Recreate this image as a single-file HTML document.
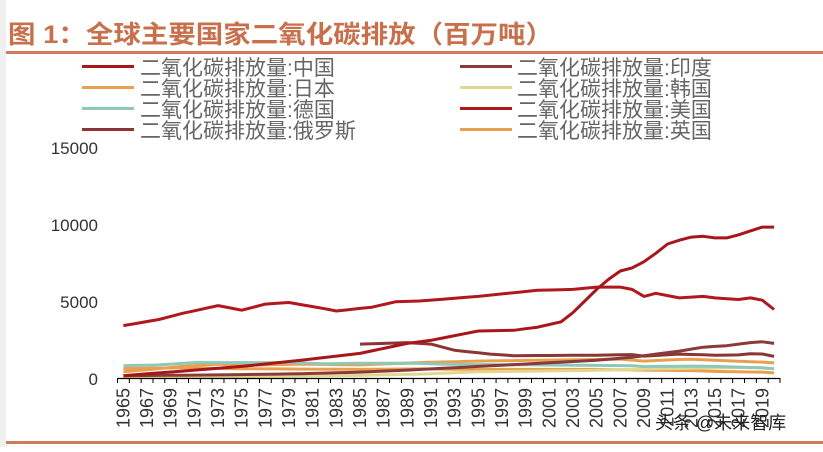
<!DOCTYPE html>
<html><head><meta charset="utf-8"><style>
body{margin:0;background:#fff;width:823px;height:447px;overflow:hidden;font-family:"Liberation Sans","Noto Sans CJK SC",sans-serif}
</style></head><body>
<svg id="s" width="823" height="447" xmlns="http://www.w3.org/2000/svg" font-family="Liberation Sans, Noto Sans CJK SC, sans-serif">
<rect x="0" y="0" width="6" height="447" fill="#f0f0f0"/>
<text x="8" y="43" font-size="25" font-weight="bold" fill="#C8704C" textLength="545" lengthAdjust="spacingAndGlyphs" font-family="Liberation Sans, Noto Sans CJK SC, sans-serif">图 1：全球主要国家二氧化碳排放（百万吨）</text>
<rect x="6" y="51" width="817" height="3" fill="#D27B5A"/>
<rect x="6" y="441" width="817" height="3" fill="#D27B5A"/>
<g id="leg" font-size="21" fill="#666"></g>
<g font-size="17" fill="#333" text-anchor="end">
<text x="98" y="154">15000</text><text x="98" y="231">10000</text><text x="98" y="308">5000</text><text x="98" y="385">0</text>
</g>
<g id="plot"></g>
<g id="ax"></g>
<text x="655" y="429" font-size="18" fill="#222">头条 @未来智库</text>
</svg>
<script>
var N=56,x0=117.5,w=662.5/N;
function X(i){return x0+w*(i+0.5)}function Y(v){return 378-v*0.0154}
function interp(k){var a=[];var keys=Object.keys(k).map(Number).sort((p,q)=>p-q);for(var y=1965;y<=2020;y++){var i=0;while(i<keys.length-1&&keys[i+1]<y)i++;var y0=keys[i],y1=keys[Math.min(i+1,keys.length-1)];if(y<keys[0]){a.push(null);continue}var v=y1==y0?k[y0]:k[y0]+(k[y1]-k[y0])*(y-y0)/(y1-y0);a.push(v)}return a}
var S=[
["#E8A050",{1965:400,1970:750,1973:900,1975:820,1980:900,1985:850,1990:1000,1995:1100,2000:1150,2005:1200,2007:1230,2009:1100,2012:1200,2013:1220,2015:1150,2019:1030,2020:980}],
["#E8A050",{1965:620,1970:660,1975:600,1980:580,1985:560,1990:590,1995:560,2000:560,2005:560,2010:500,2013:480,2015:430,2019:380,2020:330}],
["#E0D890",{1965:30,1970:60,1975:90,1980:130,1985:170,1990:250,1995:400,2000:450,2005:500,2010:600,2015:650,2018:690,2019:650,2020:600}],
["#8EC8B8",{1965:800,1968:850,1971:1000,1979:1000,1982:920,1985:960,1990:950,1993:880,2000:850,2005:820,2008:800,2009:740,2013:770,2015:750,2019:660,2020:600}],
["#8B3535",{1985:2200,1987:2250,1989:2300,1991:2200,1993:1800,1996:1550,1998:1450,2005:1480,2008:1520,2009:1420,2012:1550,2015:1480,2017:1500,2018:1580,2019:1560,2020:1400}],
["#8B3A3A",{1965:150,1970:180,1975:220,1980:280,1985:380,1990:550,1995:750,2000:950,2005:1150,2008:1350,2010:1550,2012:1750,2014:2000,2016:2100,2018:2300,2019:2350,2020:2250}],
["#B0181E",{1965:3400,1968:3800,1970:4200,1973:4700,1975:4400,1977:4800,1979:4900,1982:4500,1983:4350,1986:4600,1988:4950,1990:5000,1995:5300,2000:5700,2003:5750,2005:5900,2007:5900,2008:5750,2009:5300,2010:5500,2012:5200,2014:5300,2015:5200,2017:5100,2018:5200,2019:5050,2020:4450}],
["#A8161C",{1965:150,1970:450,1975:750,1980:1150,1985:1600,1989:2250,1991:2450,1993:2750,1995:3050,1998:3100,2000:3300,2002:3650,2003:4250,2004:5000,2005:5750,2006:6400,2007:6950,2008:7150,2009:7550,2010:8100,2011:8700,2012:8950,2013:9150,2014:9200,2015:9100,2016:9100,2017:9300,2018:9550,2019:9800,2020:9800}]
];
var h="";S.forEach(function(s){var a=interp(s[1]),p=[];a.forEach(function(v,i){if(v!==null)p.push(X(i).toFixed(1)+","+Y(v).toFixed(1))});h+='<polyline fill="none" stroke="'+s[0]+'" stroke-width="3" stroke-linejoin="round" points="'+p.join(" ")+'"/>'});
document.getElementById("plot").innerHTML=h;
var a='<line x1="117.5" y1="378.5" x2="780" y2="378.5" stroke="#000" stroke-width="1.2"/>';
for(var i=0;i<=N;i++){var x=x0+w*i;a+='<line x1="'+x+'" y1="378" x2="'+x+'" y2="383" stroke="#000"/>'}
for(var i=0;i<N;i+=2){var x=X(i)+6;a+='<text font-size="18" fill="#333" text-anchor="end" transform="translate('+x+',388) rotate(-90)">'+(1965+i)+'</text>'}
document.getElementById("ax").innerHTML=a;
var L=[["#A8161C","中国",67],["#E8A050","日本",88],["#8EC8B8","德国",109],["#8B3535","俄罗斯",130]],R=[["#8B3A3A","印度"],["#E0D890","韩国"],["#B0181E","美国"],["#E8A050","英国"]];
var g="";L.forEach(function(l,i){var y=l[2];g+='<rect x="82" y="'+(y-2)+'" width="52" height="3" fill="'+l[0]+'"/><text x="140" y="'+(y+8)+'">二氧化碳排放量:'+l[1]+'</text>';g+='<rect x="460" y="'+(y-2)+'" width="52" height="3" fill="'+R[i][0]+'"/><text x="517" y="'+(y+8)+'">二氧化碳排放量:'+R[i][1]+'</text>'});
document.getElementById("leg").innerHTML=g;
</script>
</body></html>
